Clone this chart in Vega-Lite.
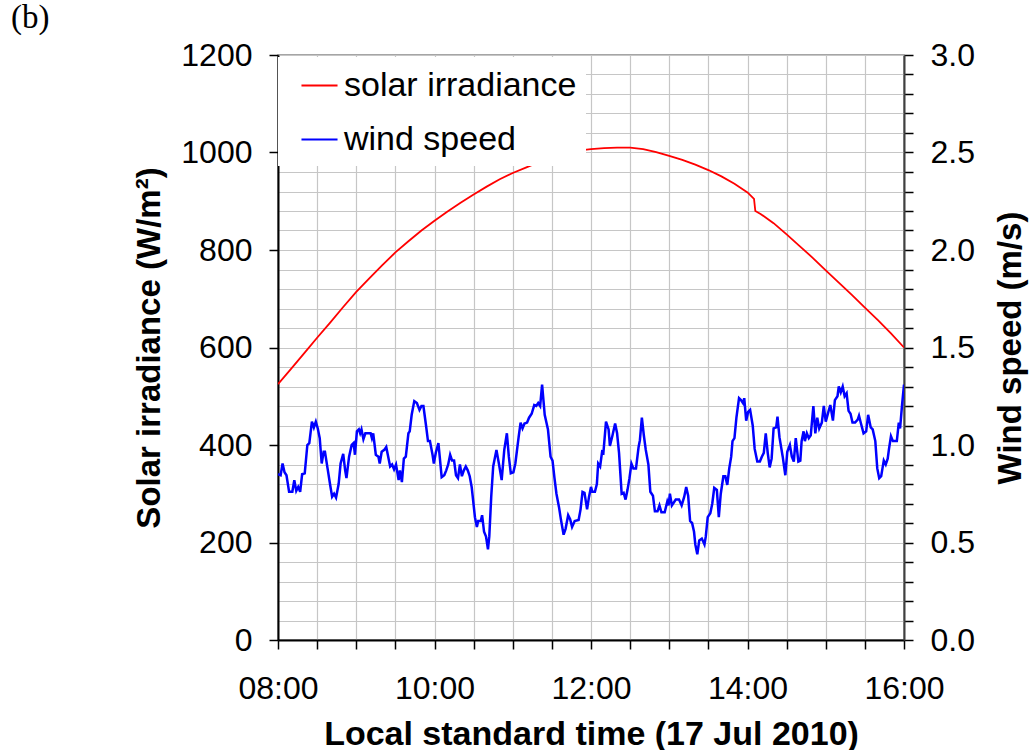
{
  "$schema": "https://vega.github.io/schema/vega-lite/v6.json",
  "width": 626,
  "height": 585,
  "autosize": "none",
  "padding": {"left": 278, "top": 55, "right": 127, "bottom": 110},
  "background": "white",
  "title": {"text": "(b)", "anchor": "start", "frame": "group", "dx": -267, "dy": 27, "font": "Liberation Serif", "fontSize": 33, "fontWeight": "normal", "color": "black", "baseline": "bottom", "offset": -2},
  "config": {
    "font": "Liberation Sans",
    "view": {"stroke": "#888888", "strokeWidth": 1.5},
    "axis": {"labelFont": "Liberation Sans", "titleFont": "Liberation Sans", "labelColor": "black", "titleColor": "black", "labelFontSize": 32, "titleFontSize": 33, "titleFontWeight": "bold", "tickColor": "black", "tickWidth": 1.5, "domainColor": "black", "domainWidth": 2, "gridColor": "#c6c6c6", "gridWidth": 1.2}
  },
  "datasets": {
    "solar": [
      {"time": "2010-07-17T08:00:00", "irradiance": 525}, {"time": "2010-07-17T08:10:00", "irradiance": 556}, {"time": "2010-07-17T08:20:00", "irradiance": 588},
      {"time": "2010-07-17T08:30:00", "irradiance": 620}, {"time": "2010-07-17T08:40:00", "irradiance": 651}, {"time": "2010-07-17T08:50:00", "irradiance": 683},
      {"time": "2010-07-17T09:00:00", "irradiance": 714}, {"time": "2010-07-17T09:10:00", "irradiance": 742}, {"time": "2010-07-17T09:20:00", "irradiance": 769},
      {"time": "2010-07-17T09:30:00", "irradiance": 795}, {"time": "2010-07-17T09:40:00", "irradiance": 818}, {"time": "2010-07-17T09:50:00", "irradiance": 840},
      {"time": "2010-07-17T10:00:00", "irradiance": 860}, {"time": "2010-07-17T10:10:00", "irradiance": 879}, {"time": "2010-07-17T10:20:00", "irradiance": 897},
      {"time": "2010-07-17T10:30:00", "irradiance": 914}, {"time": "2010-07-17T10:40:00", "irradiance": 930}, {"time": "2010-07-17T10:50:00", "irradiance": 945},
      {"time": "2010-07-17T11:00:00", "irradiance": 958}, {"time": "2010-07-17T11:10:00", "irradiance": 969}, {"time": "2010-07-17T11:20:00", "irradiance": 980},
      {"time": "2010-07-17T11:30:00", "irradiance": 990}, {"time": "2010-07-17T11:40:00", "irradiance": 998}, {"time": "2010-07-17T11:50:00", "irradiance": 1004},
      {"time": "2010-07-17T12:00:00", "irradiance": 1007}, {"time": "2010-07-17T12:10:00", "irradiance": 1009}, {"time": "2010-07-17T12:20:00", "irradiance": 1010},
      {"time": "2010-07-17T12:30:00", "irradiance": 1010}, {"time": "2010-07-17T12:40:00", "irradiance": 1007}, {"time": "2010-07-17T12:50:00", "irradiance": 1001},
      {"time": "2010-07-17T13:00:00", "irradiance": 993}, {"time": "2010-07-17T13:10:00", "irradiance": 985}, {"time": "2010-07-17T13:20:00", "irradiance": 975},
      {"time": "2010-07-17T13:30:00", "irradiance": 964}, {"time": "2010-07-17T13:40:00", "irradiance": 951}, {"time": "2010-07-17T13:50:00", "irradiance": 936},
      {"time": "2010-07-17T14:00:00", "irradiance": 918}, {"time": "2010-07-17T14:05:00", "irradiance": 905}, {"time": "2010-07-17T14:06:00", "irradiance": 880},
      {"time": "2010-07-17T14:10:00", "irradiance": 874}, {"time": "2010-07-17T14:20:00", "irradiance": 855}, {"time": "2010-07-17T14:30:00", "irradiance": 832},
      {"time": "2010-07-17T14:40:00", "irradiance": 808}, {"time": "2010-07-17T14:50:00", "irradiance": 784}, {"time": "2010-07-17T15:00:00", "irradiance": 758},
      {"time": "2010-07-17T15:10:00", "irradiance": 733}, {"time": "2010-07-17T15:20:00", "irradiance": 708}, {"time": "2010-07-17T15:30:00", "irradiance": 682},
      {"time": "2010-07-17T15:40:00", "irradiance": 656}, {"time": "2010-07-17T15:50:00", "irradiance": 629}, {"time": "2010-07-17T16:00:00", "irradiance": 600}
    ],
    "wind": [
      {"time": "2010-07-17T08:00:00", "speed": 0.85}, {"time": "2010-07-17T08:02:00", "speed": 0.845}, {"time": "2010-07-17T08:03:30", "speed": 0.905}, {"time": "2010-07-17T08:05:00", "speed": 0.86},
      {"time": "2010-07-17T08:06:30", "speed": 0.845}, {"time": "2010-07-17T08:08:30", "speed": 0.76}, {"time": "2010-07-17T08:11:00", "speed": 0.76}, {"time": "2010-07-17T08:12:30", "speed": 0.82},
      {"time": "2010-07-17T08:14:00", "speed": 0.765}, {"time": "2010-07-17T08:15:30", "speed": 0.785}, {"time": "2010-07-17T08:17:00", "speed": 0.76}, {"time": "2010-07-17T08:18:30", "speed": 0.85},
      {"time": "2010-07-17T08:20:30", "speed": 0.855}, {"time": "2010-07-17T08:22:30", "speed": 1.0}, {"time": "2010-07-17T08:24:00", "speed": 1.01}, {"time": "2010-07-17T08:26:00", "speed": 1.12},
      {"time": "2010-07-17T08:27:30", "speed": 1.09}, {"time": "2010-07-17T08:29:00", "speed": 1.12}, {"time": "2010-07-17T08:30:30", "speed": 1.085}, {"time": "2010-07-17T08:32:00", "speed": 1.035},
      {"time": "2010-07-17T08:33:30", "speed": 0.905}, {"time": "2010-07-17T08:35:00", "speed": 0.965}, {"time": "2010-07-17T08:36:00", "speed": 0.965}, {"time": "2010-07-17T08:38:00", "speed": 0.88},
      {"time": "2010-07-17T08:40:00", "speed": 0.795}, {"time": "2010-07-17T08:41:30", "speed": 0.735}, {"time": "2010-07-17T08:43:00", "speed": 0.75}, {"time": "2010-07-17T08:44:30", "speed": 0.73},
      {"time": "2010-07-17T08:46:30", "speed": 0.8}, {"time": "2010-07-17T08:48:00", "speed": 0.905}, {"time": "2010-07-17T08:50:00", "speed": 0.955}, {"time": "2010-07-17T08:51:30", "speed": 0.87},
      {"time": "2010-07-17T08:52:30", "speed": 0.83}, {"time": "2010-07-17T08:54:30", "speed": 0.94}, {"time": "2010-07-17T08:56:30", "speed": 1.0}, {"time": "2010-07-17T08:58:00", "speed": 1.01},
      {"time": "2010-07-17T08:59:00", "speed": 0.95}, {"time": "2010-07-17T09:00:30", "speed": 1.07}, {"time": "2010-07-17T09:02:00", "speed": 1.08}, {"time": "2010-07-17T09:03:00", "speed": 1.06},
      {"time": "2010-07-17T09:04:00", "speed": 1.08}, {"time": "2010-07-17T09:05:30", "speed": 1.03}, {"time": "2010-07-17T09:07:00", "speed": 1.06}, {"time": "2010-07-17T09:09:30", "speed": 1.06},
      {"time": "2010-07-17T09:11:00", "speed": 1.06}, {"time": "2010-07-17T09:12:00", "speed": 1.035}, {"time": "2010-07-17T09:13:00", "speed": 1.06}, {"time": "2010-07-17T09:15:00", "speed": 0.95},
      {"time": "2010-07-17T09:17:00", "speed": 0.94}, {"time": "2010-07-17T09:18:00", "speed": 0.905}, {"time": "2010-07-17T09:19:30", "speed": 0.965}, {"time": "2010-07-17T09:21:30", "speed": 0.975},
      {"time": "2010-07-17T09:23:00", "speed": 0.99}, {"time": "2010-07-17T09:24:30", "speed": 0.94}, {"time": "2010-07-17T09:26:00", "speed": 0.89}, {"time": "2010-07-17T09:27:30", "speed": 0.9},
      {"time": "2010-07-17T09:29:00", "speed": 0.875}, {"time": "2010-07-17T09:30:30", "speed": 0.9}, {"time": "2010-07-17T09:32:30", "speed": 0.82}, {"time": "2010-07-17T09:33:30", "speed": 0.87},
      {"time": "2010-07-17T09:35:00", "speed": 0.81}, {"time": "2010-07-17T09:36:30", "speed": 0.93}, {"time": "2010-07-17T09:38:00", "speed": 0.94}, {"time": "2010-07-17T09:40:00", "speed": 1.06},
      {"time": "2010-07-17T09:41:00", "speed": 1.07}, {"time": "2010-07-17T09:42:30", "speed": 1.155}, {"time": "2010-07-17T09:44:30", "speed": 1.225}, {"time": "2010-07-17T09:46:30", "speed": 1.215},
      {"time": "2010-07-17T09:48:30", "speed": 1.18}, {"time": "2010-07-17T09:50:00", "speed": 1.2}, {"time": "2010-07-17T09:51:30", "speed": 1.2}, {"time": "2010-07-17T09:53:30", "speed": 1.1},
      {"time": "2010-07-17T09:55:00", "speed": 1.02}, {"time": "2010-07-17T09:56:30", "speed": 1.02}, {"time": "2010-07-17T09:58:30", "speed": 0.95}, {"time": "2010-07-17T09:59:30", "speed": 0.905},
      {"time": "2010-07-17T10:01:00", "speed": 0.96}, {"time": "2010-07-17T10:03:00", "speed": 1.01}, {"time": "2010-07-17T10:04:00", "speed": 0.94}, {"time": "2010-07-17T10:05:30", "speed": 0.835},
      {"time": "2010-07-17T10:07:30", "speed": 0.845}, {"time": "2010-07-17T10:09:00", "speed": 0.87}, {"time": "2010-07-17T10:10:30", "speed": 0.9}, {"time": "2010-07-17T10:12:00", "speed": 0.95},
      {"time": "2010-07-17T10:13:30", "speed": 0.92}, {"time": "2010-07-17T10:15:00", "speed": 0.92}, {"time": "2010-07-17T10:16:30", "speed": 0.845}, {"time": "2010-07-17T10:18:00", "speed": 0.83},
      {"time": "2010-07-17T10:19:30", "speed": 0.9}, {"time": "2010-07-17T10:21:00", "speed": 0.84}, {"time": "2010-07-17T10:22:30", "speed": 0.87}, {"time": "2010-07-17T10:24:00", "speed": 0.89},
      {"time": "2010-07-17T10:25:30", "speed": 0.87}, {"time": "2010-07-17T10:27:00", "speed": 0.84}, {"time": "2010-07-17T10:28:30", "speed": 0.785}, {"time": "2010-07-17T10:31:00", "speed": 0.63},
      {"time": "2010-07-17T10:32:30", "speed": 0.58}, {"time": "2010-07-17T10:33:30", "speed": 0.61}, {"time": "2010-07-17T10:35:30", "speed": 0.61}, {"time": "2010-07-17T10:36:30", "speed": 0.64},
      {"time": "2010-07-17T10:38:00", "speed": 0.555}, {"time": "2010-07-17T10:39:30", "speed": 0.53}, {"time": "2010-07-17T10:41:00", "speed": 0.465}, {"time": "2010-07-17T10:42:00", "speed": 0.53},
      {"time": "2010-07-17T10:43:30", "speed": 0.735}, {"time": "2010-07-17T10:45:00", "speed": 0.89}, {"time": "2010-07-17T10:47:30", "speed": 0.975}, {"time": "2010-07-17T10:49:30", "speed": 0.9},
      {"time": "2010-07-17T10:51:30", "speed": 0.82}, {"time": "2010-07-17T10:53:30", "speed": 0.975}, {"time": "2010-07-17T10:55:30", "speed": 1.06}, {"time": "2010-07-17T10:57:00", "speed": 0.94},
      {"time": "2010-07-17T10:58:30", "speed": 0.855}, {"time": "2010-07-17T11:00:30", "speed": 0.86}, {"time": "2010-07-17T11:02:00", "speed": 0.905}, {"time": "2010-07-17T11:04:30", "speed": 1.04},
      {"time": "2010-07-17T11:06:00", "speed": 1.115}, {"time": "2010-07-17T11:07:30", "speed": 1.085}, {"time": "2010-07-17T11:09:00", "speed": 1.11}, {"time": "2010-07-17T11:11:00", "speed": 1.115},
      {"time": "2010-07-17T11:12:30", "speed": 1.14}, {"time": "2010-07-17T11:14:30", "speed": 1.16}, {"time": "2010-07-17T11:16:30", "speed": 1.205}, {"time": "2010-07-17T11:18:00", "speed": 1.2},
      {"time": "2010-07-17T11:19:30", "speed": 1.215}, {"time": "2010-07-17T11:21:00", "speed": 1.2}, {"time": "2010-07-17T11:22:30", "speed": 1.31}, {"time": "2010-07-17T11:24:30", "speed": 1.155},
      {"time": "2010-07-17T11:27:00", "speed": 1.08}, {"time": "2010-07-17T11:29:00", "speed": 0.94}, {"time": "2010-07-17T11:30:30", "speed": 0.92}, {"time": "2010-07-17T11:32:00", "speed": 0.83},
      {"time": "2010-07-17T11:33:30", "speed": 0.75}, {"time": "2010-07-17T11:35:30", "speed": 0.68}, {"time": "2010-07-17T11:37:00", "speed": 0.615}, {"time": "2010-07-17T11:39:00", "speed": 0.54},
      {"time": "2010-07-17T11:40:30", "speed": 0.57}, {"time": "2010-07-17T11:42:30", "speed": 0.64}, {"time": "2010-07-17T11:44:00", "speed": 0.62}, {"time": "2010-07-17T11:45:30", "speed": 0.58},
      {"time": "2010-07-17T11:47:30", "speed": 0.61}, {"time": "2010-07-17T11:50:30", "speed": 0.615}, {"time": "2010-07-17T11:52:00", "speed": 0.67}, {"time": "2010-07-17T11:53:30", "speed": 0.76},
      {"time": "2010-07-17T11:55:00", "speed": 0.755}, {"time": "2010-07-17T11:57:00", "speed": 0.67}, {"time": "2010-07-17T11:58:30", "speed": 0.735}, {"time": "2010-07-17T12:00:00", "speed": 0.785},
      {"time": "2010-07-17T12:01:00", "speed": 0.76}, {"time": "2010-07-17T12:03:00", "speed": 0.76}, {"time": "2010-07-17T12:04:30", "speed": 0.8}, {"time": "2010-07-17T12:05:30", "speed": 0.905},
      {"time": "2010-07-17T12:07:00", "speed": 0.89}, {"time": "2010-07-17T12:08:30", "speed": 0.965}, {"time": "2010-07-17T12:09:30", "speed": 0.96}, {"time": "2010-07-17T12:11:30", "speed": 1.12},
      {"time": "2010-07-17T12:13:30", "speed": 1.08}, {"time": "2010-07-17T12:14:30", "speed": 0.995}, {"time": "2010-07-17T12:16:30", "speed": 1.05}, {"time": "2010-07-17T12:18:30", "speed": 1.11},
      {"time": "2010-07-17T12:20:00", "speed": 1.06}, {"time": "2010-07-17T12:21:30", "speed": 0.96}, {"time": "2010-07-17T12:23:30", "speed": 0.75}, {"time": "2010-07-17T12:25:00", "speed": 0.755},
      {"time": "2010-07-17T12:26:30", "speed": 0.72}, {"time": "2010-07-17T12:28:00", "speed": 0.77}, {"time": "2010-07-17T12:29:30", "speed": 0.83}, {"time": "2010-07-17T12:31:00", "speed": 0.905},
      {"time": "2010-07-17T12:32:30", "speed": 0.88}, {"time": "2010-07-17T12:34:30", "speed": 0.88}, {"time": "2010-07-17T12:36:30", "speed": 0.99}, {"time": "2010-07-17T12:37:30", "speed": 1.025},
      {"time": "2010-07-17T12:39:00", "speed": 1.14}, {"time": "2010-07-17T12:40:30", "speed": 1.05}, {"time": "2010-07-17T12:42:00", "speed": 0.975}, {"time": "2010-07-17T12:44:00", "speed": 0.9},
      {"time": "2010-07-17T12:45:30", "speed": 0.76}, {"time": "2010-07-17T12:47:30", "speed": 0.74}, {"time": "2010-07-17T12:49:00", "speed": 0.66}, {"time": "2010-07-17T12:51:00", "speed": 0.66},
      {"time": "2010-07-17T12:52:30", "speed": 0.69}, {"time": "2010-07-17T12:54:00", "speed": 0.655}, {"time": "2010-07-17T12:56:30", "speed": 0.655}, {"time": "2010-07-17T12:58:30", "speed": 0.71},
      {"time": "2010-07-17T12:59:30", "speed": 0.69}, {"time": "2010-07-17T13:00:30", "speed": 0.75}, {"time": "2010-07-17T13:02:00", "speed": 0.69}, {"time": "2010-07-17T13:03:30", "speed": 0.705},
      {"time": "2010-07-17T13:05:00", "speed": 0.72}, {"time": "2010-07-17T13:07:30", "speed": 0.72}, {"time": "2010-07-17T13:09:30", "speed": 0.69}, {"time": "2010-07-17T13:11:30", "speed": 0.735},
      {"time": "2010-07-17T13:13:00", "speed": 0.785}, {"time": "2010-07-17T13:14:30", "speed": 0.74}, {"time": "2010-07-17T13:16:00", "speed": 0.61}, {"time": "2010-07-17T13:17:30", "speed": 0.6},
      {"time": "2010-07-17T13:19:00", "speed": 0.555}, {"time": "2010-07-17T13:20:00", "speed": 0.49}, {"time": "2010-07-17T13:21:30", "speed": 0.44}, {"time": "2010-07-17T13:23:00", "speed": 0.51},
      {"time": "2010-07-17T13:25:00", "speed": 0.52}, {"time": "2010-07-17T13:27:00", "speed": 0.49}, {"time": "2010-07-17T13:28:00", "speed": 0.53}, {"time": "2010-07-17T13:29:30", "speed": 0.63},
      {"time": "2010-07-17T13:31:30", "speed": 0.65}, {"time": "2010-07-17T13:33:00", "speed": 0.7}, {"time": "2010-07-17T13:34:30", "speed": 0.78}, {"time": "2010-07-17T13:36:30", "speed": 0.77},
      {"time": "2010-07-17T13:38:00", "speed": 0.63}, {"time": "2010-07-17T13:39:30", "speed": 0.75}, {"time": "2010-07-17T13:41:30", "speed": 0.84}, {"time": "2010-07-17T13:43:00", "speed": 0.84},
      {"time": "2010-07-17T13:44:30", "speed": 0.795}, {"time": "2010-07-17T13:46:00", "speed": 0.88}, {"time": "2010-07-17T13:47:30", "speed": 0.94}, {"time": "2010-07-17T13:48:30", "speed": 1.02},
      {"time": "2010-07-17T13:50:00", "speed": 1.035}, {"time": "2010-07-17T13:51:30", "speed": 1.14}, {"time": "2010-07-17T13:53:30", "speed": 1.24}, {"time": "2010-07-17T13:55:00", "speed": 1.23},
      {"time": "2010-07-17T13:56:30", "speed": 1.215}, {"time": "2010-07-17T13:57:30", "speed": 1.24}, {"time": "2010-07-17T13:59:00", "speed": 1.125}, {"time": "2010-07-17T14:00:30", "speed": 1.17},
      {"time": "2010-07-17T14:02:00", "speed": 1.18}, {"time": "2010-07-17T14:04:00", "speed": 1.1}, {"time": "2010-07-17T14:05:30", "speed": 0.98}, {"time": "2010-07-17T14:07:30", "speed": 0.915},
      {"time": "2010-07-17T14:09:30", "speed": 0.915}, {"time": "2010-07-17T14:11:00", "speed": 0.94}, {"time": "2010-07-17T14:12:30", "speed": 0.96}, {"time": "2010-07-17T14:14:00", "speed": 1.06},
      {"time": "2010-07-17T14:15:30", "speed": 0.96}, {"time": "2010-07-17T14:17:00", "speed": 0.885}, {"time": "2010-07-17T14:18:30", "speed": 0.93}, {"time": "2010-07-17T14:20:00", "speed": 1.085},
      {"time": "2010-07-17T14:22:00", "speed": 1.09}, {"time": "2010-07-17T14:23:00", "speed": 1.145}, {"time": "2010-07-17T14:24:30", "speed": 1.04}, {"time": "2010-07-17T14:27:00", "speed": 0.94},
      {"time": "2010-07-17T14:29:00", "speed": 0.845}, {"time": "2010-07-17T14:30:30", "speed": 0.965}, {"time": "2010-07-17T14:32:30", "speed": 1.0}, {"time": "2010-07-17T14:34:00", "speed": 0.94},
      {"time": "2010-07-17T14:35:30", "speed": 0.915}, {"time": "2010-07-17T14:37:00", "speed": 1.035}, {"time": "2010-07-17T14:39:00", "speed": 0.915}, {"time": "2010-07-17T14:40:30", "speed": 0.92},
      {"time": "2010-07-17T14:41:30", "speed": 1.02}, {"time": "2010-07-17T14:43:00", "speed": 1.07}, {"time": "2010-07-17T14:44:00", "speed": 1.02}, {"time": "2010-07-17T14:45:30", "speed": 1.06},
      {"time": "2010-07-17T14:47:00", "speed": 1.035}, {"time": "2010-07-17T14:48:30", "speed": 1.05}, {"time": "2010-07-17T14:50:30", "speed": 1.2}, {"time": "2010-07-17T14:52:00", "speed": 1.06},
      {"time": "2010-07-17T14:53:30", "speed": 1.14}, {"time": "2010-07-17T14:55:00", "speed": 1.085}, {"time": "2010-07-17T14:57:00", "speed": 1.115}, {"time": "2010-07-17T14:58:30", "speed": 1.2},
      {"time": "2010-07-17T15:00:00", "speed": 1.12}, {"time": "2010-07-17T15:02:00", "speed": 1.17}, {"time": "2010-07-17T15:03:30", "speed": 1.205}, {"time": "2010-07-17T15:05:30", "speed": 1.125},
      {"time": "2010-07-17T15:07:00", "speed": 1.23}, {"time": "2010-07-17T15:09:00", "speed": 1.25}, {"time": "2010-07-17T15:10:00", "speed": 1.3}, {"time": "2010-07-17T15:11:30", "speed": 1.27},
      {"time": "2010-07-17T15:13:00", "speed": 1.3}, {"time": "2010-07-17T15:14:30", "speed": 1.25}, {"time": "2010-07-17T15:16:00", "speed": 1.265}, {"time": "2010-07-17T15:17:30", "speed": 1.175},
      {"time": "2010-07-17T15:19:00", "speed": 1.16}, {"time": "2010-07-17T15:20:30", "speed": 1.115}, {"time": "2010-07-17T15:22:30", "speed": 1.115}, {"time": "2010-07-17T15:24:30", "speed": 1.13},
      {"time": "2010-07-17T15:25:30", "speed": 1.15}, {"time": "2010-07-17T15:27:00", "speed": 1.11}, {"time": "2010-07-17T15:29:00", "speed": 1.06}, {"time": "2010-07-17T15:31:00", "speed": 1.07},
      {"time": "2010-07-17T15:32:30", "speed": 1.155}, {"time": "2010-07-17T15:34:30", "speed": 1.09}, {"time": "2010-07-17T15:36:00", "speed": 1.08}, {"time": "2010-07-17T15:38:00", "speed": 1.02},
      {"time": "2010-07-17T15:39:30", "speed": 0.88}, {"time": "2010-07-17T15:41:00", "speed": 0.83}, {"time": "2010-07-17T15:42:30", "speed": 0.84}, {"time": "2010-07-17T15:43:30", "speed": 0.88},
      {"time": "2010-07-17T15:44:30", "speed": 0.92}, {"time": "2010-07-17T15:46:00", "speed": 0.9}, {"time": "2010-07-17T15:47:30", "speed": 0.93}, {"time": "2010-07-17T15:48:30", "speed": 0.98},
      {"time": "2010-07-17T15:50:00", "speed": 1.045}, {"time": "2010-07-17T15:51:30", "speed": 1.02}, {"time": "2010-07-17T15:53:00", "speed": 1.02}, {"time": "2010-07-17T15:54:30", "speed": 1.02},
      {"time": "2010-07-17T15:56:00", "speed": 1.115}, {"time": "2010-07-17T15:57:00", "speed": 1.085}, {"time": "2010-07-17T15:58:30", "speed": 1.205}, {"time": "2010-07-17T16:00:00", "speed": 1.31}
    ]
  },
  "layer": [
    {
      "data": {"name": "solar"},
      "mark": {"type": "line", "strokeWidth": 1.8, "clip": true},
      "encoding": {
        "x": {
          "field": "time", "type": "temporal",
          "scale": {"domain": [{"year": 2010, "month": 7, "date": 17, "hours": 8}, {"year": 2010, "month": 7, "date": 17, "hours": 16}]},
          "title": "Local standard time (17 Jul 2010)",
          "axis": {"format": "%H:%M", "tickCount": 16, "labelExpr": "minutes(datum.value) == 0 && hours(datum.value) % 2 == 0 ? datum.label : ''", "labelFlush": false, "labelOverlap": false, "grid": true, "tickSize": 9, "labelPadding": 24, "titleFontSize": 34, "titlePadding": 13}
        },
        "y": {
          "field": "irradiance", "type": "quantitative",
          "scale": {"domain": [0, 1200], "nice": false},
          "title": "Solar irradiance (W/m²)",
          "axis": {"orient": "left", "format": "d", "values": [0, 200, 400, 600, 800, 1000, 1200], "grid": false, "tickSize": 9, "labelPadding": 17, "titlePadding": 14}
        },
        "color": {
          "datum": "solar irradiance", "type": "nominal",
          "scale": {"domain": ["solar irradiance", "wind speed"], "range": ["#ff0000", "#0000ff"]},
          "legend": {"title": null, "orient": "none", "legendX": 0, "legendY": 2, "fillColor": "white", "padding": 9, "symbolOffset": 13, "symbolType": "stroke", "symbolSize": 1300, "symbolStrokeWidth": 2, "labelFont": "Liberation Sans", "labelFontSize": 34, "labelLimit": 500, "labelColor": "black", "labelOffset": 5, "rowPadding": 17}
        }
      }
    },
    {
      "data": {"name": "wind"},
      "mark": {"type": "line", "strokeWidth": 2.5, "clip": true},
      "encoding": {
        "x": {"field": "time", "type": "temporal"},
        "y": {
          "field": "speed", "type": "quantitative",
          "scale": {"domain": [0, 3], "nice": false},
          "title": "Wind speed (m/s)",
          "axis": {"orient": "right", "values": [0, 0.1, 0.2, 0.3, 0.4, 0.5, 0.6, 0.7, 0.8, 0.9, 1.0, 1.1, 1.2, 1.3, 1.4, 1.5, 1.6, 1.7, 1.8, 1.9, 2.0, 2.1, 2.2, 2.3, 2.4, 2.5, 2.6, 2.7, 2.8, 2.9, 3.0], "labelExpr": "round(datum.value * 10) % 5 == 0 ? format(datum.value, '.1f') : ''", "labelOverlap": false, "grid": true, "tickSize": 9, "labelPadding": 17, "domainColor": "#404040", "titleAngle": 270, "titleBaseline": "top", "titlePadding": 20}
        },
        "color": {"datum": "wind speed", "type": "nominal"}
      }
    }
  ],
  "resolve": {"scale": {"y": "independent"}}
}
